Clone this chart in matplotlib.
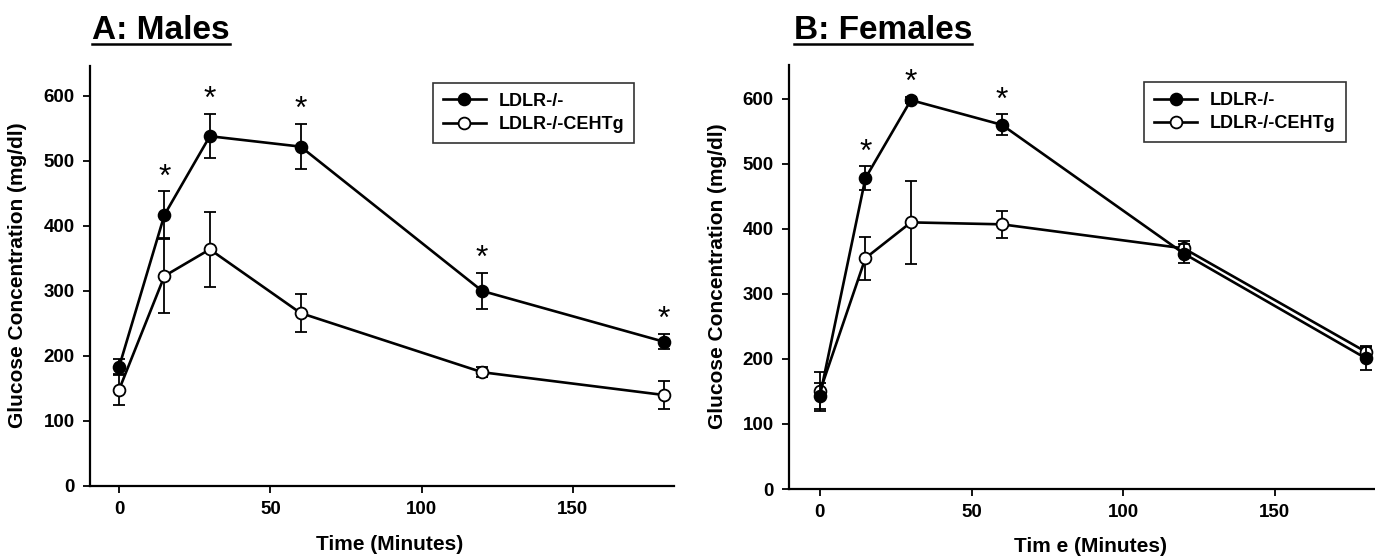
import matplotlib
matplotlib.use("Agg")
import matplotlib.pyplot as plt
from matplotlib.lines import Line2D

plt.rcParams['font.family'] = ['Liberation Sans', 'DejaVu Sans']
plt.rcParams['font.weight'] = 'bold'

# Time points (minutes)
time = [0, 15, 30, 60, 120, 180]

# Panel A: males
male_ldlr = [183, 417, 538, 522, 300, 222]
male_ldlr_err = [12, 36, 34, 35, 28, 12]
male_ceh = [148, 323, 364, 266, 175, 140]
male_ceh_err = [24, 57, 58, 29, 8, 22]
male_sig = [15, 30, 60, 120, 180]

# Panel B: females
female_ldlr = [143, 478, 598, 560, 362, 201]
female_ldlr_err = [20, 18, 5, 16, 15, 18]
female_ceh = [150, 355, 410, 407, 370, 211]
female_ceh_err = [30, 33, 64, 21, 12, 9]
female_sig = [15, 30, 60]

labels = ["LDLR-/-", "LDLR-/-CEHTg"]
yticks = [0, 100, 200, 300, 400, 500, 600]
xticks = [0, 50, 100, 150]

W, H = 1375, 558
fig = plt.figure(figsize=(W / 100, H / 100), dpi=100)


def px_axes(x0, x1, y_top, y_bot):
    # axes rectangle given in image pixels
    return fig.add_axes([x0 / W, 1 - y_bot / H, (x1 - x0) / W, (y_bot - y_top) / H])


def draw_panel(ax, ldlr, ldlr_err, ceh, ceh_err, sig, xlim, ylim, legend_x):
    style = dict(color='black', lw=1.9, elinewidth=1.3, capsize=4.5, capthick=1.3,
                 marker='o', ms=8.5, mec='black', mew=1.3)
    ax.errorbar(time, ceh, yerr=ceh_err, mfc='white', zorder=2, **style)
    ax.errorbar(time, ldlr, yerr=ldlr_err, mfc='black', zorder=3, **style)
    # significance stars above the upper error cap
    for t in sig:
        i = time.index(t)
        ax.annotate("*", (t, ldlr[i] + ldlr_err[i]), xytext=(0, 10),
                    textcoords='offset points', ha='center', va='center',
                    fontsize=23, fontweight='normal')
    ax.set_xlim(*xlim)
    ax.set_ylim(*ylim)
    ax.set_xticks(xticks)
    ax.set_yticks(yticks)
    for s in ['top', 'right']:
        ax.spines[s].set_visible(False)
    for s in ['left', 'bottom']:
        ax.spines[s].set_linewidth(1.6)
    ax.tick_params(direction='out', length=5, width=1.3, labelsize=13.5, pad=6)
    for lab in ax.get_xticklabels() + ax.get_yticklabels():
        lab.set_fontweight('bold')
    handles = [Line2D([], [], color='black', lw=1.9, marker='o', ms=8.5,
                      mfc=fc, mec='black', mew=1.3) for fc in ['black', 'white']]
    leg = ax.legend(handles, labels, loc='upper left',
                    bbox_to_anchor=(legend_x, 0.96), borderaxespad=0,
                    fancybox=False, edgecolor='black',
                    handlelength=2.4, handletextpad=0.7, labelspacing=0.35,
                    borderpad=0.55, prop={'weight': 'bold', 'size': 13})
    leg.get_frame().set_linewidth(1.2)


axA = px_axes(90, 674, 66, 486)
draw_panel(axA, male_ldlr, male_ldlr_err, male_ceh, male_ceh_err, male_sig,
           (-9.6, 183.4), (0, 646), 0.587)
axB = px_axes(789, 1381, 65, 489)
draw_panel(axB, female_ldlr, female_ldlr_err, female_ceh, female_ceh_err, female_sig,
           (-10.2, 185), (0, 652), 0.600)

# axis labels
fig.text(18 / W, 1 - 275 / H, "Glucose Concentration (mg/dl)", rotation=90,
         ha='center', va='center', fontsize=15, fontweight='bold')
fig.text(717 / W, 1 - 276 / H, "Glucose Concentration (mg/dl)", rotation=90,
         ha='center', va='center', fontsize=15, fontweight='bold')
fig.text(390 / W, 1 - 545 / H, "Time (Minutes)", ha='center', va='center',
         fontsize=15, fontweight='bold')
fig.text(1091 / W, 1 - 547 / H, "Tim e (Minutes)", ha='center', va='center',
         fontsize=15, fontweight='bold')

# underlined panel titles
titles = []
for x, txt in [(92, "A: Males"), (794, "B: Females")]:
    titles.append(fig.text(x / W, 1 - 39 / H, txt, ha='left', va='baseline',
                           fontsize=24, fontweight='bold'))
fig.canvas.draw()
renderer = fig.canvas.get_renderer()
for t in titles:
    bb = t.get_window_extent(renderer)
    yline = 1 - 43.5 / H
    fig.add_artist(Line2D([bb.x0 / W, bb.x1 / W], [yline, yline],
                          transform=fig.transFigure, color='black', lw=1.8))

fig.savefig("out.png", dpi=100)
